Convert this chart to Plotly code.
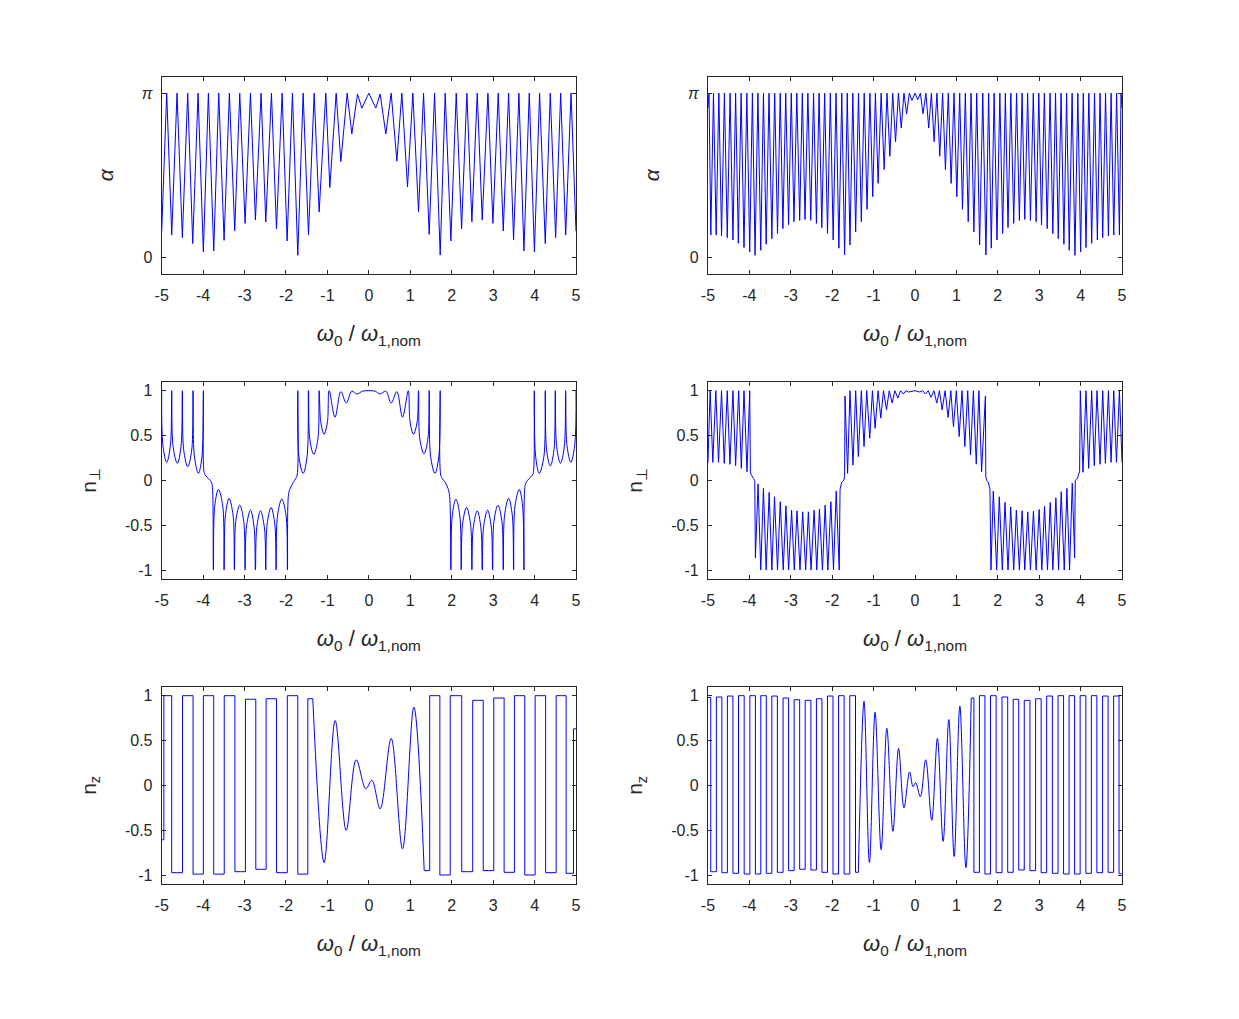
import plotly.graph_objects as go

# ---------------- axis ticks / labels ----------------
x_tick_vals = [-5, -4, -3, -2, -1, 0, 1, 2, 3, 4, 5]
x_tick_text = ['-5', '-4', '-3', '-2', '-1', '0', '1', '2', '3', '4', '5']
n_tick_vals = [-1, -0.5, 0, 0.5, 1]
n_tick_text = ['-1', '-0.5', '0', '0.5', '1']
alpha_tick_vals = [0, 1]            # alpha in units of pi
alpha_tick_text = ['0', '<i>π</i>']
x_label = '<i>ω</i><sub>0</sub> / <i>ω</i><sub>1,nom</sub>'
y_labels = ['<i>α</i>', 'n<sub>⊥</sub>', 'n<sub>z</sub>']

# ---------------- data ----------------
# alpha / pi, left panel
alpha_a_x = [-5.0, -4.879, -4.758, -4.630, -4.501, -4.372, -4.251, -4.122, -3.994, -3.873, -3.744, -3.623,
             -3.494, -3.366, -3.237, -3.116, -2.987, -2.858, -2.738, -2.601, -2.488, -2.351, -2.230, -2.093,
             -1.973, -1.844, -1.715, -1.586, -1.457, -1.320, -1.200, -1.039, -0.942, -0.789, -0.676, -0.523,
             -0.411, -0.274, -0.169, 0.0,
             0.168, 0.273, 0.410, 0.539, 0.676, 0.796, 0.933, 1.062, 1.199, 1.320, 1.456, 1.586, 1.722,
             1.843, 1.980, 2.109, 2.238, 2.366, 2.487, 2.616, 2.737, 2.874, 2.994, 3.123, 3.244, 3.373,
             3.493, 3.622, 3.743, 3.872, 3.996, 4.121, 4.258, 4.379, 4.508, 4.630, 4.751, 4.880, 5.0]
alpha_a_y = [0.16, 1, 0.137, 1, 0.121, 1, 0.085, 1, 0.034, 1, 0.040, 1, 0.105, 1, 0.164, 1, 0.208, 1,
             0.228, 1, 0.216, 1, 0.176, 1, 0.101, 1, 0.014, 1, 0.137, 1, 0.277, 1, 0.426, 1, 0.584, 1,
             0.752, 0.995, 0.909, 1.0,
             0.909, 0.995, 0.752, 1, 0.586, 1, 0.430, 1, 0.277, 1, 0.141, 1, 0.016, 1, 0.101, 1, 0.176,
             1, 0.218, 1, 0.228, 1, 0.208, 1, 0.162, 1, 0.107, 1, 0.040, 1, 0.034, 1, 0.085, 1, 0.121, 1,
             0.137, 1, 0.16]

# alpha / pi, right panel
alpha_b_x = [-5.0, -4.975, -4.931, -4.867, -4.802, -4.737, -4.672, -4.603, -4.534, -4.466, -4.397, -4.332,
             -4.267, -4.199, -4.130, -4.061, -3.992, -3.927, -3.862, -3.794, -3.725, -3.660, -3.595, -3.526,
             -3.457, -3.389, -3.320, -3.255, -3.190, -3.122, -3.053, -2.988, -2.923, -2.854, -2.785, -2.721,
             -2.656, -2.587, -2.518, -2.450, -2.381, -2.316, -2.251, -2.182, -2.113, -2.045, -1.976, -1.907,
             -1.838, -1.769, -1.700, -1.636, -1.571, -1.502, -1.433, -1.365, -1.296, -1.227, -1.158, -1.089,
             -1.020, -0.956, -0.891, -0.818, -0.745, -0.676, -0.607, -0.539, -0.470, -0.401, -0.332, -0.267,
             -0.202, -0.138, -0.073, 0.0,
             0.065, 0.130, 0.194, 0.263, 0.331, 0.396, 0.461, 0.530, 0.598, 0.667, 0.735, 0.804, 0.873,
             0.942, 1.010, 1.079, 1.147, 1.216, 1.285, 1.354, 1.422, 1.491, 1.560, 1.637, 1.713, 1.778,
             1.842, 1.911, 1.980, 2.049, 2.117, 2.182, 2.246, 2.315, 2.384, 2.453, 2.521, 2.586, 2.651,
             2.720, 2.788, 2.857, 2.925, 2.990, 3.055, 3.124, 3.192, 3.261, 3.329, 3.394, 3.459, 3.528,
             3.596, 3.661, 3.725, 3.794, 3.863, 3.932, 4.000, 4.065, 4.129, 4.198, 4.267, 4.336, 4.404,
             4.469, 4.533, 4.602, 4.671, 4.736, 4.800, 4.869, 4.937, 4.975, 5.0]
alpha_b_y = [0.91, 1, 0.137, 1, 0.137, 1, 0.131, 1, 0.121, 1, 0.107, 1, 0.087, 1, 0.061, 1, 0.034, 1,
             0.014, 1, 0.044, 1, 0.081, 1, 0.115, 1, 0.145, 1, 0.176, 1, 0.200, 1, 0.218, 1, 0.226, 1,
             0.232, 1, 0.226, 1, 0.208, 1, 0.182, 1, 0.147, 1, 0.107, 1, 0.057, 1, 0.016, 1, 0.077, 1,
             0.156, 1, 0.218, 1, 0.293, 1, 0.370, 1, 0.451, 1, 0.535, 1, 0.616, 1, 0.705, 1, 0.788, 1,
             0.873, 1, 0.956, 1.0,
             0.96, 1, 0.875, 1, 0.788, 1, 0.705, 1, 0.616, 1, 0.535, 1, 0.451, 1, 0.370, 1, 0.293, 1,
             0.218, 1, 0.156, 1, 0.077, 1, 0.016, 1, 0.057, 1, 0.107, 1, 0.147, 1, 0.182, 1, 0.208, 1,
             0.226, 1, 0.232, 1, 0.226, 1, 0.218, 1, 0.200, 1, 0.176, 1, 0.145, 1, 0.115, 1, 0.081, 1,
             0.044, 1, 0.014, 1, 0.034, 1, 0.061, 1, 0.087, 1, 0.107, 1, 0.121, 1, 0.131, 1, 0.137, 1,
             0.137, 1, 0.91]

# n_perp, left panel
nperp_a_x = [-5.0, -4.97, -4.879, -4.79, -4.758, -4.726, -4.622, -4.533, -4.501, -4.469, -4.372, -4.275,
             -4.243, -4.211, -4.114, -4.026, -3.994, -3.98, -3.95, -3.87, -3.80, -3.775, -3.752, -3.72,
             -3.631, -3.526, -3.494, -3.462, -3.374, -3.277, -3.245, -3.213, -3.116, -3.019, -2.987, -2.955,
             -2.858, -2.77, -2.738, -2.706, -2.617, -2.52, -2.488, -2.456, -2.359, -2.27, -2.238, -2.206,
             -2.101, -1.997, -1.965, -1.94, -1.90, -1.82, -1.77, -1.73, -1.715, -1.69, -1.586, -1.49,
             -1.457, -1.425, -1.33, -1.23, -1.199, -1.16, -1.08, -1.0, -0.958, -0.817, -0.676, -0.545,
             -0.411, -0.29, -0.15, 0.0,
             0.15, 0.273, 0.41, 0.539, 0.675, 0.812, 0.952, 0.995, 1.078, 1.165, 1.199, 1.231, 1.33,
             1.425, 1.457, 1.49, 1.595, 1.69, 1.722, 1.735, 1.78, 1.84, 1.91, 1.95, 1.980, 2.012, 2.101,
             2.197, 2.229, 2.261, 2.358, 2.455, 2.487, 2.519, 2.616, 2.705, 2.737, 2.769, 2.866, 2.955,
             2.987, 3.019, 3.116, 3.212, 3.244, 3.276, 3.373, 3.462, 3.494, 3.526, 3.63, 3.711, 3.743,
             3.765, 3.80, 3.87, 3.95, 3.975, 3.993, 4.025, 4.113, 4.226, 4.258, 4.29, 4.38, 4.468, 4.500,
             4.532, 4.625, 4.718, 4.750, 4.782, 4.875, 4.968, 5.0]
nperp_a_y = [1.0, 0.39, 0.201, 0.39, 1.0, 0.38, 0.190, 0.38, 1.0, 0.34, 0.153, 0.34, 1.0, 0.27, 0.078,
             0.27, 1.0, 0.10, 0.06, 0.02, -0.02, -0.08, -1.0, -0.29, -0.101, -0.29, -1.0, -0.39, -0.201,
             -0.39, -1.0, -0.46, -0.276, -0.46, -1.0, -0.52, -0.332, -0.52, -1.0, -0.53, -0.340, -0.53,
             -1.0, -0.49, -0.302, -0.49, -1.0, -0.40, -0.209, -0.40, -1.0, -0.16, -0.09, -0.02, 0.015,
             0.06, 1.0, 0.27, 0.078, 0.27, 1.0, 0.46, 0.29, 0.46, 1.0, 0.65, 0.515, 0.65, 1.0, 0.705,
             0.99, 0.862, 0.995, 0.963, 0.995, 1.0,
             0.995, 0.963, 0.995, 0.862, 0.99, 0.705, 1.0, 0.65, 0.515, 0.65, 1.0, 0.46, 0.295, 0.46,
             1.0, 0.27, 0.078, 0.27, 1.0, 0.06, 0.015, -0.02, -0.09, -0.18, -1.0, -0.40, -0.209, -0.40,
             -1.0, -0.49, -0.302, -0.49, -1.0, -0.53, -0.340, -0.53, -1.0, -0.52, -0.332, -0.52, -1.0,
             -0.46, -0.276, -0.46, -1.0, -0.39, -0.201, -0.39, -1.0, -0.29, -0.101, -0.29, -1.0, -0.08,
             -0.02, 0.02, 0.06, 0.10, 1.0, 0.27, 0.078, 0.27, 1.0, 0.34, 0.16, 0.34, 1.0, 0.38, 0.19,
             0.38, 1.0, 0.39, 0.201, 0.39, 1.0]

# n_perp, right panel
nperp_b_x = [-5.0, -4.947, -4.883, -4.81, -4.745, -4.672, -4.607, -4.534, -4.47, -4.397, -4.332, -4.259,
             -4.194, -4.130, -4.057, -3.992, -3.975, -3.96, -3.9, -3.87, -3.854, -3.79, -3.725, -3.66,
             -3.595, -3.522, -3.457, -3.393, -3.320, -3.255, -3.182, -3.117, -3.053, -2.98, -2.915, -2.85,
             -2.777, -2.713, -2.640, -2.575, -2.510, -2.437, -2.372, -2.308, -2.235, -2.17, -2.105, -2.032,
             -1.968, -1.903, -1.830, -1.81, -1.77, -1.72, -1.70, -1.69, -1.628, -1.571, -1.498, -1.433,
             -1.368, -1.296, -1.231, -1.166, -1.093, -1.028, -0.964, -0.891, -0.826, -0.761, -0.688,
             -0.623, -0.551, -0.486, -0.413, -0.348, -0.283, -0.219, -0.154, 0.0,
             0.113, 0.182, 0.25, 0.319, 0.388, 0.457, 0.525, 0.59, 0.655, 0.727, 0.8, 0.865, 0.929, 0.998,
             1.067, 1.135, 1.204, 1.273, 1.341, 1.41, 1.479, 1.543, 1.608, 1.70, 1.71, 1.73, 1.77, 1.81,
             1.834, 1.891, 1.972, 2.036, 2.109, 2.174, 2.246, 2.311, 2.384, 2.448, 2.521, 2.586, 2.651,
             2.723, 2.788, 2.861, 2.925, 2.998, 3.063, 3.127, 3.2, 3.265, 3.329, 3.402, 3.467, 3.531,
             3.604, 3.669, 3.733, 3.798, 3.855, 3.87, 3.92, 3.96, 3.975, 3.992, 4.057, 4.129, 4.194, 4.267,
             4.33, 4.396, 4.469, 4.533, 4.598, 4.671, 4.735, 4.80, 4.865, 4.937, 5.0]
nperp_b_y = [0.2, 1, 0.201, 1, 0.201, 1, 0.19, 1, 0.179, 1, 0.164, 1, 0.134, 1, 0.097, 1, 0.1, 0.067,
             0.02, 0.0, -0.866, -0.04, -1, -0.09, -1, -0.134, -1, -0.183, -1, -0.239, -1, -0.284, -1,
             -0.332, -1, -0.34, -1, -0.351, -1, -0.351, -1, -0.332, -1, -0.32, -1, -0.276, -1, -0.239, -1,
             -0.119, -1, -0.1, -0.02, 0.0, 0.04, 0.94, 0.078, 1, 0.17, 1, 0.265, 1, 0.377, 1, 0.47, 1,
             0.58, 1, 0.694, 1, 0.787, 1, 0.862, 1, 0.918, 1, 0.963, 1, 0.985, 1.0,
             0.985, 1, 0.963, 1, 0.925, 1, 0.862, 1, 0.787, 1, 0.701, 1, 0.60, 1, 0.489, 1, 0.377, 1,
             0.284, 1, 0.18, 1, 0.097, 0.94, 0.04, 0.0, -0.02, -0.1, -1, -0.119, -1, -0.183, -1, -0.246,
             -1, -0.295, -1, -0.332, -1, -0.34, -1, -0.351, -1, -0.343, -1, -0.325, -1, -0.287, -1,
             -0.246, -1, -0.194, -1, -0.127, -1, -0.09, -1, -0.03, -0.866, 0.0, 0.02, 0.067, 0.1, 1,
             0.09, 1, 0.134, 1, 0.164, 1, 0.179, 1, 0.19, 1, 0.201, 1, 0.201, 1, 0.2]

# n_z, left panel (extrema)
nz_a_x = [-5.0, -4.895, -4.622, -4.372, -4.114, -3.873, -3.615, -3.366, -3.10, -2.858, -2.60, -2.359,
          -2.101, -1.836, -1.594, -1.353, -1.079, -0.813, -0.547, -0.306, -0.072, 0.072, 0.273, 0.539,
          0.813, 1.086, 1.336, 1.601, 1.827, 2.101, 2.382, 2.632, 2.89, 3.14, 3.389, 3.638, 3.888,
          4.138, 4.395, 4.645, 4.878, 5.0]
nz_a_y = [-0.607, 1.0, -0.974, 1.0, -0.99, 1.0, -0.99, 1.0, -0.963, 0.96, -0.936, 0.966, -0.974, 1.0,
          -0.99, 0.966, -0.861, 0.723, -0.502, 0.285, -0.037, 0.056, -0.262, 0.524, -0.708, 0.873,
          -0.951, 1.0, -1.0, 1.0, -0.963, 0.948, -0.951, 0.974, -0.97, 1.0, -1.0, 1.0, -0.974, 1.0,
          -0.981, 0.63]

# n_z, right panel (extrema)
nz_b_x = [-5.0, -4.866, -4.729, -4.599, -4.462, -4.332, -4.194, -4.057, -3.919, -3.789, -3.660, -3.522,
          -3.393, -3.255, -3.117, -2.988, -2.850, -2.721, -2.583, -2.445, -2.316, -2.178, -2.049, -1.911,
          -1.781, -1.644, -1.506, -1.368, -1.231, -1.101, -0.964, -0.818, -0.680, -0.534, -0.397, -0.267,
          -0.130, -0.048, 0.016, 0.129, 0.259, 0.404, 0.541, 0.679, 0.816, 0.945, 1.083, 1.228, 1.358,
          1.487, 1.624, 1.754, 1.89, 2.028, 2.174, 2.303, 2.44, 2.57, 2.707, 2.844, 2.982, 3.111, 3.248,
          3.386, 3.523, 3.653, 3.790, 3.919, 4.057, 4.194, 4.323, 4.461, 4.598, 4.727, 4.865, 4.99]
nz_b_y = [0.98, -0.963, 0.985, -0.974, 0.996, -0.981, 1.0, -0.989, 1.0, -0.989, 1.0, -0.981, 0.996,
          -0.97, 0.974, -0.951, 0.955, -0.936, 0.948, -0.944, 0.966, -0.97, 0.996, -0.989, 1.0, -0.989,
          1.0, -0.97, 0.936, -0.861, 0.816, -0.719, 0.637, -0.513, 0.412, -0.251, 0.15, -0.015, 0.03,
          -0.127, 0.285, -0.39, 0.524, -0.625, 0.734, -0.794, 0.884, -0.918, 0.974, -0.97, 1.0, -0.989,
          1.0, -0.974, 0.985, -0.97, 0.959, -0.944, 0.948, -0.951, 0.966, -0.974, 0.996, -0.981, 1.0,
          -0.989, 1.0, -0.989, 1.0, -0.981, 1.0, -0.974, 0.996, -0.97, 0.996, -0.985]

for a, b in [(alpha_a_x, alpha_a_y), (alpha_b_x, alpha_b_y), (nperp_a_x, nperp_a_y),
             (nperp_b_x, nperp_b_y), (nz_a_x, nz_a_y), (nz_b_x, nz_b_y)]:
    assert len(a) == len(b), (len(a), len(b))

# ---------------- figure ----------------
BLUE = '#0000ff'
AXC = '#262626'
FONT = 'Liberation Sans, Arial, Helvetica, sans-serif'

x_domains = [[0.1305, 0.4649], [0.5714, 0.9056]]
y_domains = [[0.7311, 0.9247], [0.4318, 0.6254], [0.1325, 0.3261]]

fig = go.Figure()


def add_line(k, xs, ys, shape='linear'):
    fig.add_trace(go.Scatter(x=xs, y=ys, mode='lines', xaxis='x%d' % k if k > 1 else 'x',
                             yaxis='y%d' % k if k > 1 else 'y',
                             line=dict(color=BLUE, width=1, shape=shape), hoverinfo='skip'))


def split_square(xs, ys, k, inner):
    # outer (saturated) parts drawn with step shape, central part smooth
    idx_in = [i for i, x in enumerate(xs) if abs(x) <= inner]
    i0, i1 = idx_in[0], idx_in[-1]
    add_line(k, xs[:i0 + 1], ys[:i0 + 1], 'hvh')
    add_line(k, xs[i0:i1 + 1], ys[i0:i1 + 1], 'spline')
    add_line(k, xs[i1:], ys[i1:], 'hvh')


add_line(1, alpha_a_x, alpha_a_y)
add_line(2, alpha_b_x, alpha_b_y)
add_line(3, nperp_a_x, nperp_a_y, 'spline')
add_line(4, nperp_b_x, nperp_b_y)
split_square(nz_a_x, nz_a_y, 5, 1.36)
split_square(nz_b_x, nz_b_y, 6, 1.37)

layout = dict(width=1239, height=1019, margin=dict(l=0, r=0, t=0, b=0, autoexpand=False),
              paper_bgcolor='white', plot_bgcolor='white', showlegend=False,
              font=dict(family=FONT, size=16, color=AXC))

for k in range(1, 7):
    r, c = (k - 1) // 2, (k - 1) % 2
    xa = 'xaxis' if k == 1 else 'xaxis%d' % k
    ya = 'yaxis' if k == 1 else 'yaxis%d' % k
    common = dict(showline=True, linecolor=AXC, linewidth=1, mirror='ticks', ticks='inside',
                  ticklen=4, tickcolor=AXC, tickwidth=1, showgrid=False, zeroline=False,
                  automargin=False,
                  tickfont=dict(family=FONT, size=16, color=AXC), fixedrange=True)
    layout[xa] = dict(common, domain=x_domains[c], anchor='y' if k == 1 else 'y%d' % k,
                      range=[-5, 5], tickmode='array', tickvals=x_tick_vals, ticktext=x_tick_text,
                      ticklabelstandoff=7,
                      title=dict(text=x_label, font=dict(family=FONT, size=22, color=AXC), standoff=22))
    if r == 0:
        yr, tv, tt = [-0.1, 1.1], alpha_tick_vals, alpha_tick_text
    else:
        yr, tv, tt = [-1.1, 1.1], n_tick_vals, n_tick_text
    layout[ya] = dict(common, domain=y_domains[r], anchor='x' if k == 1 else 'x%d' % k,
                      range=yr, tickmode='array', tickvals=tv, ticktext=tt, ticklabelstandoff=5,
                      title=dict(text=y_labels[r], font=dict(family=FONT, size=21, color=AXC),
                                 standoff=22))

fig.update_layout(**layout)
fig.write_html('out.html')
